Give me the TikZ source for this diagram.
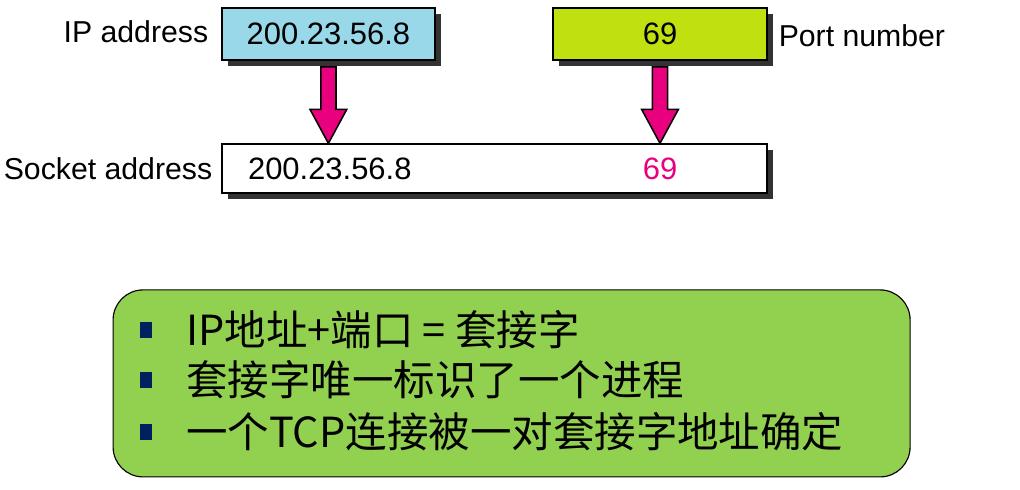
\documentclass[tikz,border=0pt]{standalone}
\usepackage{fontspec}
\setmainfont{Liberation Sans}
\newfontfamily\cjk{Noto Sans CJK SC}
\usetikzlibrary{shapes,arrows,positioning,calc,shadows}
\usepackage{xcolor}
\definecolor{ipblue}{RGB}{153,216,232}
\definecolor{portgreen}{RGB}{192,224,16}
\definecolor{arrowpink}{RGB}{232,0,127}
\definecolor{notegreen}{RGB}{146,208,80}
\definecolor{bulletblue}{RGB}{0,32,96}

\begin{document}
\begin{tikzpicture}[
    node distance=0.1cm and 0.2cm,
    field/.style={rectangle, draw, line width=1.1pt, minimum height=1.3cm, font=\fontsize{22}{26}\selectfont,
      drop shadow={shadow xshift=0.15cm, shadow yshift=-0.15cm, fill=black!80, opacity=1}},
    label/.style={font=\fontsize{21.5}{26}\selectfont},
    fat/.style={fill=arrowpink, draw=black, line width=1.1pt, to path={
      let \p1=(\tikztostart), \p2=(\tikztotarget) in
      (\x1-0.19cm,\y1) -- (\x1+0.19cm,\y1) -- (\x1+0.19cm,\y2+0.85cm) -- (\x1+0.46cm,\y2+0.85cm)
      -- (\x1,\y2) -- (\x1-0.46cm,\y2+0.85cm) -- (\x1-0.19cm,\y2+0.85cm) -- cycle}},
    bullet/.style={rectangle, fill=bulletblue, minimum width=0.3cm, minimum height=0.42cm, inner sep=0pt},
    line/.style={font=\cjk\fontsize{29.5}{36}\selectfont, anchor=west, inner sep=0pt}
]
\useasboundingbox (0,0) rectangle (25.5,12.225);

% Address fields
\node[field, fill=ipblue, minimum width=5.325cm] (ip) at (8.21,11.375) {200.23.56.8};
\node[field, fill=portgreen, minimum width=5.35cm] (port) at (16.5,11.375) {69};
\node[field, fill=white, minimum width=13.625cm, minimum height=1.225cm] (sock) at (12.36,8.01) {};

% Labels
\node[label, left=of ip, yshift=0.05cm] (iplabel) {IP address};
\node[label, right=of port, xshift=-0.05cm, yshift=-0.03cm] (portlabel) {Port number};
\node[label, left=0.1cm of sock] (socklabel) {Socket address};

\node[label, font=\fontsize{22}{26}\selectfont, anchor=west] (sockip) at ($(sock.west)+(0.55,0)$) {200.23.56.8};
\node[label, font=\fontsize{22}{26}\selectfont, text=arrowpink] (sockport) at (port |- sock) {69};

% Arrows
\coordinate (ipfrom) at ($(ip.south)+(0,-0.15)$);
\coordinate (portfrom) at ($(port.south)+(0,-0.15)$);
\draw[fat] (ipfrom) to (ip.south |- sock.north);
\draw[fat] (portfrom) to (port.south |- sock.north);

% Summary box
\node[rectangle, draw, line width=0.8pt, fill=notegreen, rounded corners=0.75cm,
      minimum width=19.925cm, minimum height=4.675cm] (note) at (12.79,2.64) {};
\node[bullet] (b1) at (3.65,3.975) {};
\node[bullet] (b2) at (3.65,2.725) {};
\node[bullet] (b3) at (3.65,1.425) {};
\node[line] (l1) at (4.65,3.975) {IP地址+端口 = 套接字};
\node[line] (l2) at (4.65,2.725) {套接字唯一标识了一个进程};
\node[line] (l3) at (4.65,1.425) {一个TCP连接被一对套接字地址确定};

\end{tikzpicture}
\end{document}
